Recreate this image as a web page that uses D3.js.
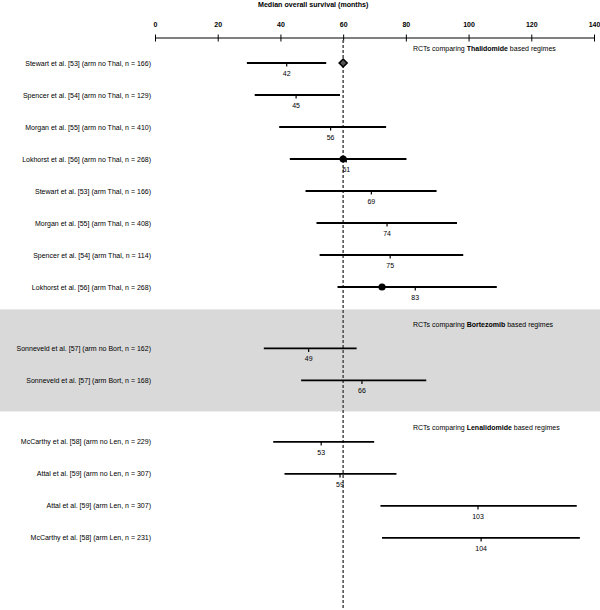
<!DOCTYPE html>
<html><head><meta charset="utf-8">
<script src="https://cdn.jsdelivr.net/npm/d3@7"></script>
<style>body{margin:0;background:#fff}svg{display:block;font-family:"Liberation Sans",Arial,Helvetica,sans-serif}</style>
</head><body><svg id="c" width="600" height="610"></svg>
<script>
const labels = [
 "Stewart et al. [53] (arm no Thal, n = 166)",
 "Spencer et al. [54] (arm no Thal, n = 129)",
 "Morgan et al. [55] (arm no Thal, n = 410)",
 "Lokhorst et al. [56] (arm no Thal, n = 268)",
 "Stewart et al. [53] (arm Thal, n = 166)",
 "Morgan et al. [55] (arm Thal, n = 408)",
 "Spencer et al. [54] (arm Thal, n = 114)",
 "Lokhorst et al. [56] (arm Thal, n = 268)",
 "Sonneveld et al. [57] (arm no Bort, n = 162)",
 "Sonneveld et al. [57] (arm Bort, n = 168)",
 "McCarthy et al. [58] (arm no Len, n = 229)",
 "Attal et al. [59] (arm no Len, n = 307)",
 "Attal et al. [59] (arm Len, n = 307)",
 "McCarthy et al. [58] (arm Len, n = 231)"
];
const groupOf = [0,0,0,0,0,0,0,0,1,1,2,2,2,2];
const medians = [42,45,56,61,69,74,75,83,49,66,53,59,103,104];
const lower =   [29.3,31.8,39.6,43.0,48.0,51.5,52.5,58.2,34.7,46.6,37.7,41.3,71.9,72.4];
const upper =   [54.6,59.0,73.7,80.2,89.8,96.3,98.3,109.0,64.3,86.5,69.9,77.0,134.5,135.5];
const groupDrugs = ["Thalidomide","Bortezomib","Lenalidomide"];
const extraPts = [{row:0, v:60, shape:"diamond"},{row:3, v:60, shape:"circle"},{row:7, v:72.4, shape:"circle"}];
const xTicks = [0,20,40,60,80,100,120,140];
const refLine = 60;

const svg = d3.select("#c");
const x = d3.scaleLinear().domain([0,140]).range([155,594]);
const slots = [];
let s = 0;
groupOf.forEach((g,i)=>{ if(i>0 && g!==groupOf[i-1]) s += 0.92; slots.push(s); s += 1; });
const y = d3.scaleLinear().domain([0,1]).range([63,95]);
const headerGap = [0.45, 0.75, 0.45];

// gray band for group 1
const b = groupOf.map((g,i)=>g===1?slots[i]:null).filter(v=>v!==null);
svg.append("rect").attr("x",0).attr("width",600)
  .attr("y",y(b[0]-1.22)).attr("height",y(b[b.length-1]+0.97)-y(b[0]-1.22))
  .attr("fill","#d9d9d9");

// axis
const axis = d3.axisTop(x).tickValues(xTicks).tickSize(0).tickPadding(11);
const ag = svg.append("g").attr("transform","translate(0,38)").call(axis);
ag.select(".domain").remove();
ag.append("line").attr("x1",x(0)).attr("x2",x(140)).attr("stroke","#000").attr("stroke-width",1);
ag.selectAll(".tick").append("line").attr("y1",-3.5).attr("y2",3.5).attr("stroke","#000");
ag.selectAll(".tick text").attr("font-size",7).attr("font-weight","bold").attr("fill","#000")
  .attr("font-family","'Liberation Sans',Arial,sans-serif");

svg.append("text").attr("x",258).attr("y",7).attr("font-size",7.1).attr("font-weight","bold")
  .text("Median overall survival (months)");

// reference line
svg.append("line").attr("x1",x(refLine)).attr("x2",x(refLine)).attr("y1",40).attr("y2",610)
  .attr("stroke","#555").attr("stroke-width",1.6).attr("stroke-dasharray","3,2");

// group titles
groupDrugs.forEach((d,gi)=>{
  const first = groupOf.indexOf(gi);
  const t = svg.append("text").attr("x",413).attr("y",y(slots[first]-headerGap[gi])+2.5).attr("font-size",7);
  t.append("tspan").text("RCTs comparing ");
  t.append("tspan").attr("font-weight","bold").text(d);
  t.append("tspan").text(" based regimes");
});

// rows
const rows = svg.append("g").selectAll("g").data(labels).join("g")
  .attr("transform",(d,i)=>`translate(0,${y(slots[i])})`);
rows.append("text").attr("x",151).attr("y",2.5).attr("text-anchor","end").attr("font-size",7).text(d=>d);
rows.append("line").attr("x1",(d,i)=>x(lower[i])).attr("x2",(d,i)=>x(upper[i]))
  .attr("stroke","#000").attr("stroke-width",1.8);
rows.append("line").attr("x1",(d,i)=>x(medians[i])).attr("x2",(d,i)=>x(medians[i]))
  .attr("y1",0).attr("y2",3.5).attr("stroke","#000").attr("stroke-width",1.2);
rows.append("text").attr("x",(d,i)=>x(medians[i])).attr("y",13).attr("text-anchor","middle")
  .attr("font-size",7).text((d,i)=>medians[i]);

extraPts.forEach(p=>{
  const cx = x(p.v), cy = y(slots[p.row]);
  if(p.shape==="circle"){
    svg.append("circle").attr("cx",cx).attr("cy",cy).attr("r",3.6).attr("fill","#000");
  } else {
    svg.append("path").attr("d",d3.symbol(d3.symbolDiamond2,40)()).attr("transform",`translate(${cx},${cy})`)
      .attr("fill","#555").attr("stroke","#000").attr("stroke-width",1.6);
  }
});
</script></body></html>
